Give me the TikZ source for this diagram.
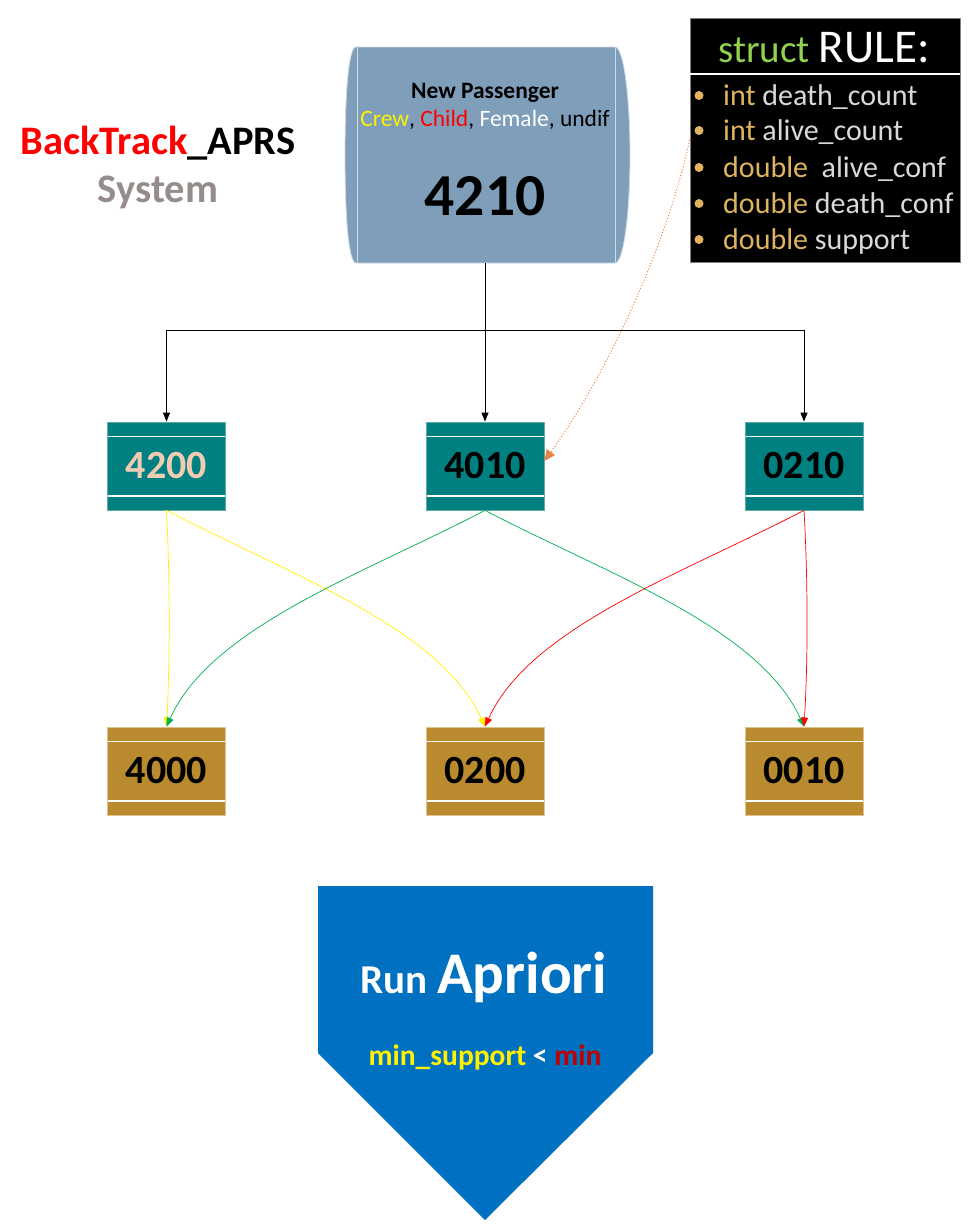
\documentclass[tikz,border=0pt]{standalone}
\usepackage{fontspec}
\setmainfont{Carlito}
\usetikzlibrary{arrows.meta}
\definecolor{cylfill}{RGB}{127,158,186}
\definecolor{cyledge}{RGB}{205,218,232}
\definecolor{tealbox}{RGB}{0,128,128}
\definecolor{tealedge}{RGB}{95,172,168}
\definecolor{goldbox}{RGB}{185,139,46}
\definecolor{goldedge}{RGB}{222,196,140}
\definecolor{peach}{RGB}{241,203,178}
\definecolor{kwgold}{RGB}{222,180,95}
\definecolor{txtgray}{RGB}{217,217,217}
\definecolor{structgreen}{RGB}{146,208,80}
\definecolor{sysgray}{RGB}{150,140,140}
\definecolor{blueshape}{RGB}{0,112,192}
\definecolor{darkred}{RGB}{192,0,0}
\definecolor{arrorange}{RGB}{232,130,70}
\definecolor{arrgreen}{RGB}{0,176,80}
\newcommand{\fs}[1]{\fontsize{#1}{#1}\selectfont}
\begin{document}
\begin{tikzpicture}[x=1pt,y=-1pt,
  numbox/.style={rectangle, minimum width=118pt, minimum height=88pt, inner sep=0pt,
    line width=0.8pt, font=\fs{40}\bfseries,
    path picture={
      \fill[white] ([yshift=-13.5pt]path picture bounding box.north west) rectangle ([yshift=-15pt]path picture bounding box.north east);
      \fill[white] ([yshift=13.5pt]path picture bounding box.south west) rectangle ([yshift=15pt]path picture bounding box.south east);}},
  tealnode/.style={numbox, fill=tealbox, draw=tealedge},
  goldnode/.style={numbox, fill=goldbox, draw=goldedge},
  toparr/.style={-{Triangle[length=9pt,width=7pt]}, line width=0.8pt, black},
  colarr/.style={-{Triangle[length=9pt,width=7pt]}, line width=0.7pt},
  itemtxt/.style={anchor=base west, font=\fs{30}, inner sep=0pt},
]
\useasboundingbox[fill=white] (0,0) rectangle (969,1224);

% title
\node[anchor=base, font=\fs{40.5}\bfseries] (title) at (158,154) {\textcolor{red}{BackTrack}\_APRS};
\node[anchor=base, font=\fs{40.5}\bfseries, text=sysgray] (sys) at (158,202) {System};

% cylinder (horizontal)
\fill[cylfill, draw=cyledge, line width=0.8pt] (356,47) -- (615,47)
  .. controls (624,47) and (630,100) .. (630,155)
  .. controls (630,210) and (624,263) .. (615,263) -- (356,263)
  .. controls (348,263) and (345,210) .. (345,155)
  .. controls (345,100) and (348,47) .. (356,47) -- cycle;
\draw[cyledge, line width=0.8pt] (357,48) -- (357,262);
\draw[cyledge, line width=0.8pt] (615,48) -- (615,262);
\node[minimum width=280pt, minimum height=216pt, inner sep=0pt] (pass) at (485,155) {};
\node[anchor=base, font=\fs{23.5}\bfseries] (np) at (485,98) {New Passenger};
\node[anchor=base, font=\fs{23.5}] (cats) at (485,126) {\textcolor{yellow}{Crew}, \textcolor{red}{Child}, \textcolor{white}{Female}, undif};
\node[anchor=base, font=\fs{59.5}\bfseries] (num) at (485,215) {4210};

% struct box
\node[fill=black, draw=gray, line width=0.8pt, minimum width=270pt, minimum height=244pt, inner sep=0pt] (rule) at (825,140) {};
\draw[white, line width=1.2pt] (rule.west |- 0,74) -- (rule.east |- 0,74);
\node[anchor=base] (rtitle) at (824,62) {\fs{39}\textcolor{structgreen}{struct} \fs{47}\textcolor{white}{RULE:}};
\foreach \yy in {105,140,177,213,249} { \fill[kwgold] (699,\yy-9.5) circle (4.5); }
\node[itemtxt] (i1) at (723,105) {\textcolor{kwgold}{int} \textcolor{txtgray}{death\_count}};
\node[itemtxt] (i2) at (723,140) {\textcolor{kwgold}{int} \textcolor{txtgray}{alive\_count}};
\node[itemtxt] (i3) at (723,177) {\textcolor{kwgold}{double}\ \ \textcolor{txtgray}{alive\_conf}};
\node[itemtxt] (i4) at (723,213) {\textcolor{kwgold}{double} \textcolor{txtgray}{death\_conf}};
\node[itemtxt] (i5) at (723,249) {\textcolor{kwgold}{double} \textcolor{txtgray}{support}};

% level 1 nodes
\node[tealnode, text=peach] (n4200) at (166.5,466) {4200};
\node[tealnode] (n4010) at (485,466) {4010};
\node[tealnode] (n0210) at (804,466) {0210};

% level 2 nodes
\node[goldnode] (n4000) at (166.5,771) {4000};
\node[goldnode] (n0200) at (485,771) {0200};
\node[goldnode] (n0010) at (804,771) {0010};

% black tree connectors
\coordinate (split) at (485,330);
\draw[toparr] (pass.south) -- (n4010.north);
\draw[line width=0.8pt] (n4200.north |- split) -- (n0210.north |- split);
\draw[toparr] (split) -| (n4200.north);
\draw[toparr] (split) -| (n0210.north);

% orange dotted
\draw[arrorange, dotted, line width=1pt, -{Triangle[length=11pt,width=10pt]}]
  (rule.west) .. controls (668,240) and (610,370) .. ([yshift=5pt]n4010.east);

% colored connectors
\draw[colarr, yellow] (n4200.south) .. controls (170,580) and (170,660) .. (n4000.north);
\draw[colarr, yellow] (n4200.south) .. controls (286,573) and (440,627) .. (n0200.north);
\draw[colarr, arrgreen] (n4010.south) .. controls (365,573) and (211,627) .. (n4000.north);
\draw[colarr, arrgreen] (n4010.south) .. controls (605,573) and (759,627) .. (n0010.north);
\draw[colarr, red] (n0210.south) .. controls (684,573) and (530,627) .. (n0200.north);
\draw[colarr, red] (n0210.south) .. controls (808,580) and (808,660) .. (n0010.north);

% pentagon
\fill[blueshape] (318,886) -- (653,886) -- (653,1053) -- (485,1220) -- (318,1053) -- cycle;
\node[anchor=base, text=white, font=\bfseries] (run) at (484,993) {\fs{41}Run \fs{59}Apriori};
\node[anchor=base, font=\fs{29.5}\bfseries] (minsup) at (485,1065) {\textcolor{yellow}{min\_support} \textcolor{white}{<} \textcolor{darkred}{min}};
\end{tikzpicture}
\end{document}
